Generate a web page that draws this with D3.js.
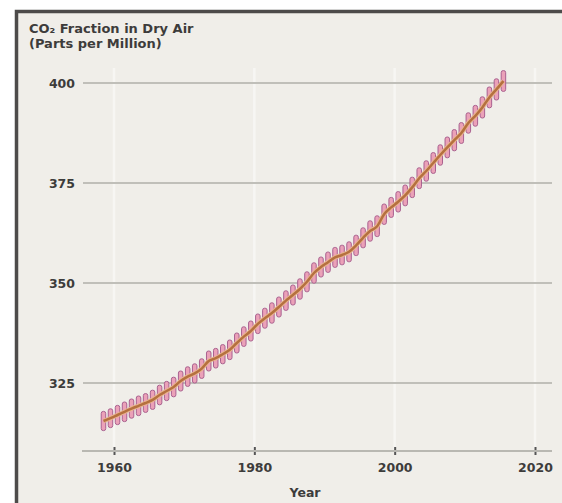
<!DOCTYPE html>
<html>
<head>
<meta charset="utf-8">
<script src="https://cdn.jsdelivr.net/npm/d3@7"></script>
<style>
  body { margin: 0; background: #fff; }
  text { font-family: "DejaVu Sans", sans-serif; fill: #3d3c3b; }
</style>
</head>
<body>
<div id="chart"></div>
<script>
// annual mean CO2 (ppm)
const years = d3.range(1958, 2016);
const co2 = [
  315.5, 316.2, 317.0, 317.8, 318.6, 319.3, 320.0, 320.8, 322.0, 323.0,
  324.0, 325.5, 326.6, 327.4, 328.6, 330.5, 331.2, 332.2, 333.3, 335.0,
  336.6, 338.0, 339.8, 341.2, 342.5, 344.0, 345.6, 347.0, 348.5, 350.3,
  352.5, 354.0, 355.2, 356.4, 357.0, 357.8, 359.4, 361.3, 363.0, 364.2,
  367.2, 368.9, 370.3, 371.9, 373.9, 376.2, 378.0, 380.0, 382.0, 383.9,
  385.7, 387.5, 390.0, 391.8, 393.9, 396.4, 398.4, 400.5
];
// seasonal peak-to-trough swing (ppm) for each year
const swing = [
  4.8, 4.7, 4.8, 4.9, 4.8, 4.9, 4.7, 4.8, 4.9, 4.8,
  4.9, 5.0, 4.9, 4.8, 4.9, 5.0, 4.9, 4.8, 4.9, 5.0,
  4.9, 5.0, 4.9, 5.0, 5.1, 5.0, 4.9, 5.0, 5.1, 5.0,
  5.1, 5.0, 5.1, 5.0, 4.9, 5.0, 5.1, 5.0, 5.1, 5.2,
  5.1, 5.0, 5.1, 5.2, 5.1, 5.2, 5.1, 5.2, 5.1, 5.2,
  5.3, 5.2, 5.1, 5.2, 5.3, 5.2, 5.3, 5.2
];
const yTicks = [325, 350, 375, 400];
const xTicks = [1960, 1980, 2000, 2020];
const titleLines = ["CO\u2082 Fraction in Dry Air", "(Parts per Million)"];
const xLabel = "Year";

const width = 562, height = 503;
const data = years.map((yr, i) => ({ year: yr + 0.5, value: co2[i], swing: swing[i] }));

const svg = d3.select("#chart").append("svg").attr("width", width).attr("height", height);

// panel with dark top/left border
svg.append("rect").attr("x", 15).attr("y", 10).attr("width", width - 15).attr("height", height - 10)
  .attr("fill", "#f0eee9");
svg.append("path").attr("d", `M16.5,${height} V11.5 H${width}`)
  .attr("fill", "none").attr("stroke", "#4d4b4a").attr("stroke-width", 3.5);

// scales
const x = d3.scaleLinear().domain([1960, 2020]).range([114, 535]);
const y = d3.scaleLinear().domain([325, 400]).range([383, 83]);
const axisY = 451;

// vertical grid (faint white)
svg.append("g").selectAll("line").data(xTicks).enter().append("line")
  .attr("x1", d => x(d)).attr("x2", d => x(d))
  .attr("y1", 68).attr("y2", axisY)
  .attr("stroke", "#f7f6f3").attr("stroke-width", 2.5);

// horizontal grid
svg.append("g").selectAll("line").data(yTicks).enter().append("line")
  .attr("x1", 83).attr("x2", 552)
  .attr("y1", d => y(d)).attr("y2", d => y(d))
  .attr("stroke", "#c0bfb9").attr("stroke-width", 2);

// y labels
svg.append("g").selectAll("text").data(yTicks).enter().append("text")
  .attr("x", 75).attr("y", d => y(d)).attr("dy", "0.36em")
  .attr("text-anchor", "end").attr("font-size", 12.5).attr("font-weight", 700)
  .text(d => d);

// x axis
const xAxis = svg.append("g").attr("transform", `translate(0,${axisY})`)
  .call(d3.axisBottom(x).tickValues(xTicks).tickFormat(d3.format("d")).tickSize(0).tickPadding(12));
xAxis.select(".domain").remove();
xAxis.append("line").attr("x1", 82).attr("x2", 552).attr("stroke", "#b9b8b2").attr("stroke-width", 2);
xAxis.selectAll(".tick").append("line").attr("y1", -4).attr("y2", 4)
  .attr("stroke", "#555").attr("stroke-width", 2);
xAxis.selectAll(".tick text").attr("font-size", 12.5).attr("font-weight", 700)
  .attr("font-family", "DejaVu Sans, sans-serif").attr("fill", "#3d3c3b");

svg.append("text").attr("x", 305).attr("y", 497).attr("text-anchor", "middle")
  .attr("font-size", 12.5).attr("font-weight", 700).text(xLabel);

// title
svg.append("g").selectAll("text").data(titleLines).enter().append("text")
  .attr("x", 29).attr("y", (d, i) => 33 + i * 15)
  .attr("font-size", 13).attr("font-weight", 700)
  .text(d => d);

// seasonal swing marks
svg.append("g").selectAll("rect").data(data).enter().append("rect")
  .attr("x", d => x(d.year) - 2.25)
  .attr("y", d => y(d.value + d.swing / 2))
  .attr("width", 4.5)
  .attr("height", d => y(d.value - d.swing / 2) - y(d.value + d.swing / 2))
  .attr("rx", 2)
  .attr("fill", "#eba1b8").attr("stroke", "#a9608f").attr("stroke-width", 1);

// trend line
const line = d3.line().x(d => x(d.year)).y(d => y(d.value)).curve(d3.curveMonotoneX);
svg.append("path").datum(data).attr("d", line)
  .attr("fill", "none").attr("stroke", "#e9b48f").attr("stroke-width", 4.5);
svg.append("path").datum(data).attr("d", line)
  .attr("fill", "none").attr("stroke", "#b5703f").attr("stroke-width", 2.5);
</script>
</body>
</html>
